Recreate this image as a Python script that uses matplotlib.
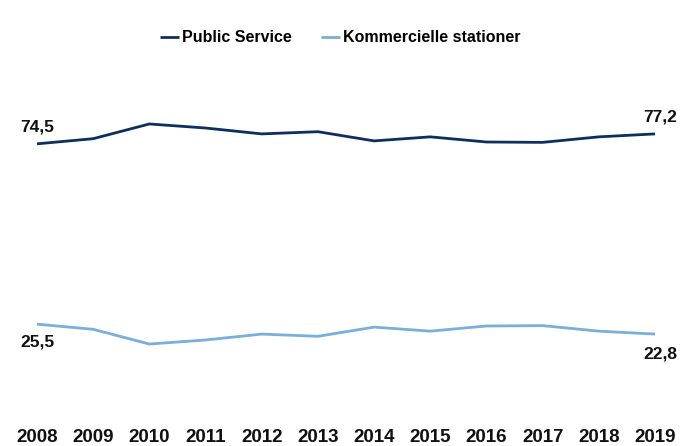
import matplotlib
matplotlib.use("Agg")
import matplotlib.pyplot as plt

years = [2008, 2009, 2010, 2011, 2012, 2013, 2014, 2015, 2016, 2017, 2018, 2019]
public_service = [74.5, 75.9, 79.9, 78.8, 77.2, 77.8, 75.3, 76.4, 75.0, 74.9, 76.4, 77.2]
kommercielle = [25.5, 24.1, 20.1, 21.2, 22.8, 22.2, 24.7, 23.6, 25.0, 25.1, 23.6, 22.8]
series_names = ["Public Service", "Kommercielle stationer"]
colors = ["#0c2f5f", "#7aaedc"]

plt.rcParams['font.family'] = ["Liberation Sans", "DejaVu Sans"]

fig = plt.figure(figsize=(6.81, 4.46), dpi=100)
ax = fig.add_axes([37/681, 1-418/446, (655-37)/681, (418-50)/446])

ax.plot(years, public_service, color=colors[0], lw=2, label=series_names[0], solid_capstyle='butt')
ax.plot(years, kommercielle, color=colors[1], lw=2, label=series_names[1], solid_capstyle='butt')
ax.set_xlim(years[0], years[-1])
ax.set_ylim(0, 100)
ax.set_xticks(years)
ax.set_xticklabels([str(y) for y in years], fontsize=13.5, fontweight='bold', color='#111111')
ax.tick_params(axis='x', length=0, pad=8)
ax.set_yticks([])
for s in ax.spines.values():
    s.set_visible(False)

def lab(x, y, v, dx, dy):
    ax.annotate(f"{v:.1f}".replace('.', ','), (x, y), xytext=(dx, dy), textcoords='offset points',
                ha='center', va='center', fontsize=12.5, fontweight='bold', color='#111111',
                annotation_clip=False)

lab(years[0], public_service[0], public_service[0], 0, 12)
lab(years[-1], public_service[-1], public_service[-1], 4, 12)
lab(years[0], kommercielle[0], kommercielle[0], 0, -13)
lab(years[-1], kommercielle[-1], kommercielle[-1], 4, -14)

fig.legend(loc='center', bbox_to_anchor=(0.5, 1-38/446), ncol=2, frameon=False,
           handlelength=1.2, handletextpad=0.2, columnspacing=1.8,
           prop={'weight': 'bold', 'size': 11.5})

fig.savefig("out.png", dpi=100)
